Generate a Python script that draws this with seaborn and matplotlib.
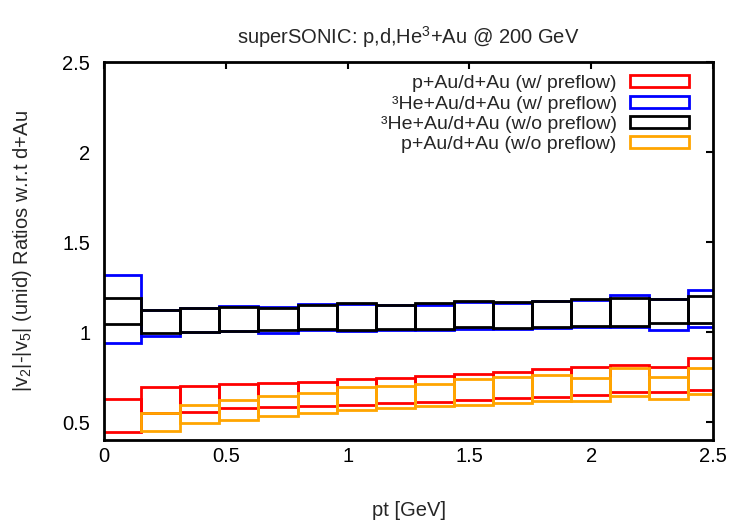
import matplotlib
matplotlib.use("Agg")
import matplotlib.pyplot as plt
from matplotlib.patches import Patch
import numpy as np
import seaborn as sns

# bin geometry (pt bins)
bin_width = 0.1605
bin_centers = [0.072 + 0.1605 * i for i in range(16)]

# p+Au/d+Au (w/ preflow) - red
red_low = [0.446, 0.548, 0.557, 0.578, 0.585, 0.587, 0.596, 0.603, 0.613, 0.622, 0.633, 0.639, 0.648, 0.664, 0.668, 0.677]
red_high = [0.627, 0.692, 0.701, 0.709, 0.716, 0.725, 0.738, 0.745, 0.755, 0.768, 0.777, 0.793, 0.803, 0.817, 0.805, 0.854]

# 3He+Au/d+Au (w/ preflow) - blue
blue_low = [0.941, 0.978, 1.000, 1.003, 0.997, 1.012, 1.008, 1.011, 1.009, 1.019, 1.017, 1.022, 1.026, 1.028, 1.013, 1.030]
blue_high = [1.316, 1.125, 1.133, 1.143, 1.140, 1.157, 1.155, 1.148, 1.150, 1.168, 1.161, 1.170, 1.180, 1.203, 1.181, 1.235]

# 3He+Au/d+Au (w/o preflow) - black
black_low = [1.043, 0.997, 1.002, 1.006, 1.009, 1.015, 1.011, 1.015, 1.015, 1.028, 1.022, 1.030, 1.033, 1.033, 1.048, 1.048]
black_high = [1.190, 1.122, 1.131, 1.139, 1.135, 1.148, 1.159, 1.148, 1.163, 1.172, 1.166, 1.174, 1.183, 1.188, 1.185, 1.199]

# p+Au/d+Au (w/o preflow) - orange
orange_low = [0.300, 0.452, 0.493, 0.511, 0.533, 0.550, 0.567, 0.576, 0.589, 0.596, 0.607, 0.618, 0.616, 0.642, 0.626, 0.657]
orange_high = [0.373, 0.548, 0.594, 0.620, 0.646, 0.662, 0.692, 0.700, 0.709, 0.738, 0.748, 0.760, 0.744, 0.799, 0.748, 0.801]

labels = ["p+Au/d+Au (w/ preflow)",
          "\u00b3He+Au/d+Au (w/ preflow)",
          "\u00b3He+Au/d+Au (w/o preflow)",
          "p+Au/d+Au (w/o preflow)"]
colors = ["#ff0000", "#0000ff", "#000000", "#ffa500"]
series = [(red_low, red_high), (blue_low, blue_high),
          (black_low, black_high), (orange_low, orange_high)]

xticks = [0, 0.5, 1, 1.5, 2, 2.5]
yticks = [0.5, 1, 1.5, 2, 2.5]

FS = 14.5
LFS = 14

sns.set_theme(style="white")
plt.rcParams["font.family"] = ["Liberation Sans", "DejaVu Sans"]
plt.rcParams["mathtext.fontset"] = "custom"
plt.rcParams["mathtext.rm"] = "Liberation Sans"
plt.rcParams["mathtext.it"] = "Liberation Sans"

fig, ax = plt.subplots(figsize=(7.5, 5.25), dpi=100)
fig.subplots_adjust(left=0.1387, right=0.9507, top=0.8819, bottom=0.1619)

x = np.array(bin_centers)
for (lo, hi), c in zip(series, colors):
    lo = np.array(lo)
    hi = np.array(hi)
    ax.bar(x, hi - lo, bottom=lo, width=bin_width, fill=False,
           edgecolor=c, linewidth=2.0, align="center")

ax.set_xlim(0, 2.5)
ax.set_ylim(0.4, 2.5)
ax.set_xticks(xticks)
ax.set_xticklabels([f"{t:g}" for t in xticks])
ax.set_yticks(yticks)
ax.set_yticklabels([f"{t:g}" for t in yticks])
ax.tick_params(direction="in", length=5, width=1.5, top=True, right=True,
               labelsize=FS, colors="black")
ax.tick_params(axis="y", pad=10)
ax.tick_params(axis="x", pad=5)
for s in ax.spines.values():
    s.set_linewidth(2.0)
    s.set_color("black")

ax.set_xlabel("pt [GeV]", fontsize=FS, labelpad=25)
ax.set_ylabel(r"|v$_2$|-|v$_5$| (unid) Ratios w.r.t d+Au", fontsize=FS, labelpad=20)
ax.set_title(r"superSONIC: p,d,He$^3$+Au @ 200 GeV", fontsize=FS, pad=13)

handles = [Patch(facecolor="none", edgecolor=c, linewidth=2.0) for c in colors]
ax.legend(handles, labels, loc="upper right", frameon=False, markerfirst=False,
          fontsize=LFS, handlelength=3.0, handleheight=0.55, labelspacing=0.17,
          handletextpad=0.7, borderaxespad=0.0, borderpad=0.0,
          bbox_to_anchor=(0.96, 0.965))

fig.savefig("out.png", dpi=100, facecolor="white")
